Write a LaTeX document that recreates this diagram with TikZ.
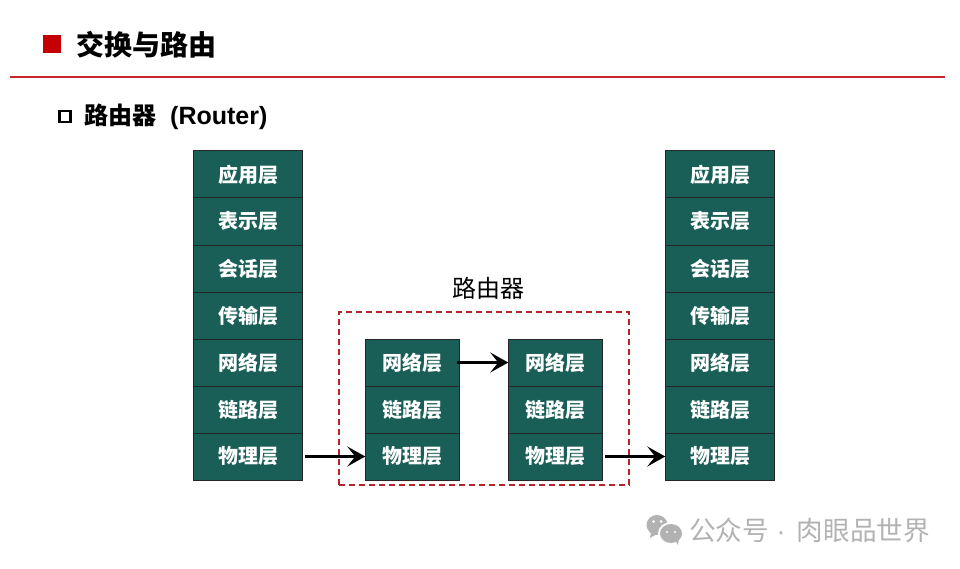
\documentclass[tikz,border=0pt]{standalone}
\usepackage{fontspec}
\setmainfont{Noto Sans CJK SC}
\newfontfamily\latinfont{Liberation Sans}
\usetikzlibrary{arrows.meta}
\usetikzlibrary{calc}
\definecolor{layergreen}{HTML}{1A5F57}
\definecolor{rulered}{HTML}{C9252B}
\definecolor{boxred}{HTML}{B5242A}
\definecolor{markred}{HTML}{C40000}
\definecolor{markgray}{HTML}{B2B2B2}

\begin{document}
\begin{tikzpicture}[x=1pt,y=-1pt,>={Stealth[length=18pt,width=20pt,inset=8pt]},node distance=47pt,
	wide node/.style={rectangle,draw=black!85,line width=1pt,fill=layergreen,text=white,minimum width=109.5pt,minimum height=47pt,inner sep=0pt,outer sep=0pt,font=\fontsize{20}{20}\selectfont\bfseries},
	narrow node/.style={wide node,minimum width=94.5pt},
	link/.style={->,line width=3.5pt,black},
	head text/.style={inner sep=0pt,anchor=west,text=black}]

	\useasboundingbox (0,0) rectangle (960,569);

	% heading
	\node[rectangle,fill=markred,minimum size=18pt,inner sep=0pt] (mark) at (52,44) {};
	\node[head text,font=\fontsize{28}{28}\selectfont\bfseries] (title) at (76,45) {交换与路由};
	\coordinate (ruleL) at (10,77);
	\coordinate (ruleR) at (945,77);
	\draw[rulered,line width=2pt] (ruleL) -- (ruleR);
	\node[rectangle,draw=black,line width=2.5pt,minimum size=11pt,inner sep=0pt] (submark) at (65,116.5) {};
	\node[head text,font=\fontsize{24}{24}\selectfont\bfseries] (subtitle) at (84,116.5) {路由器\hspace{14pt}{\latinfont\fontsize{25}{25}\selectfont (Router)}};

	% left host
	\node[wide node] (A1) at (248,174.5) {应用层};
	\node[wide node] (A2) [below of = A1] {表示层};
	\node[wide node] (A3) [below of = A2] {会话层};
	\node[wide node] (A4) [below of = A3] {传输层};
	\node[wide node] (A5) [below of = A4] {网络层};
	\node[wide node] (A6) [below of = A5] {链路层};
	\node[wide node] (A7) [below of = A6] {物理层};

	% right host
	\node[wide node] (B1) at (720,174.5) {应用层};
	\node[wide node] (B2) [below of = B1] {表示层};
	\node[wide node] (B3) [below of = B2] {会话层};
	\node[wide node] (B4) [below of = B3] {传输层};
	\node[wide node] (B5) [below of = B4] {网络层};
	\node[wide node] (B6) [below of = B5] {链路层};
	\node[wide node] (B7) [below of = B6] {物理层};

	% router
	\node[narrow node] (R1) at (412.5,362.5) {网络层};
	\node[narrow node] (R2) [below of = R1] {链路层};
	\node[narrow node] (R3) [below of = R2] {物理层};
	\node[narrow node] (S1) at (555.5,362.5) {网络层};
	\node[narrow node] (S2) [below of = S1] {链路层};
	\node[narrow node] (S3) [below of = S2] {物理层};

	\node[draw=boxred,line width=2pt,dashed,dash pattern=on 6pt off 4pt,minimum width=290pt,minimum height=173pt,inner sep=0pt] (router) at (484,398.5) {};
	\node[font=\fontsize{24}{24}\selectfont] (routerlabel) at (488,288) {路由器};

	\draw[link,shorten <=2pt] (A7.east) -- (R3.west);
	\draw[link,shorten <=-3pt] (R1.east) -- (S1.west);
	\draw[link,shorten <=2pt] (S3.east) -- (B7.west);

	% watermark
	\fill[markgray] (657,525) ellipse (10.5pt and 10pt);
	\fill[markgray] (651,532) -- (650,538) -- (657,534) -- cycle;
	\fill[white] (671,533.5) ellipse (13pt and 11.5pt);
	\fill[markgray] (671,533.5) ellipse (11pt and 9.5pt);
	\fill[markgray] (675,540) -- (678,545) -- (679,538) -- cycle;
	\fill[white] (653.5,521.5) circle (1.5pt) (661,521.5) circle (1.5pt) (667,532) circle (1.2pt) (675,532) circle (1.2pt);
	\node[inner sep=0pt,anchor=west,text=markgray,font=\fontsize{26.6}{26.6}\selectfont] (watermark) at (689,530) {公众号\hspace{7.5pt}{\latinfont ·}\hspace{11.5pt}肉眼品世界};

\end{tikzpicture}
\end{document}
